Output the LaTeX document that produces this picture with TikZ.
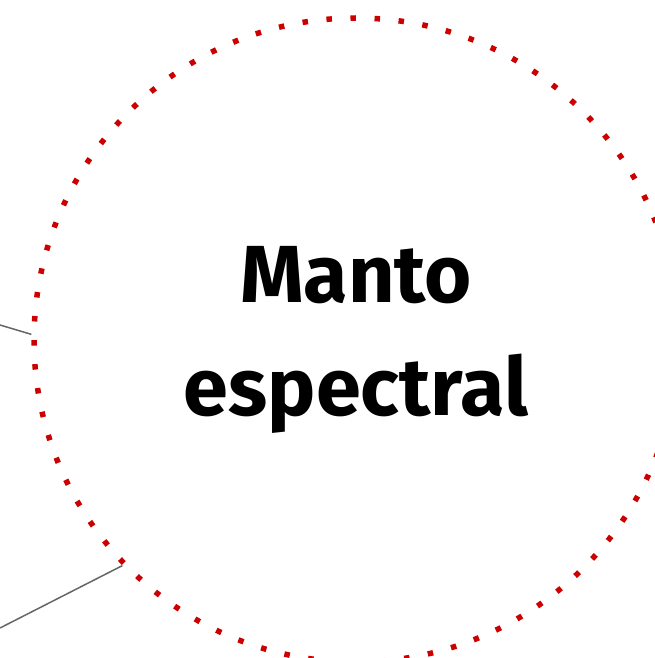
\documentclass[tikz,border=0pt]{standalone}
\usepackage{fontspec}
\setmainfont{Fira Sans}
\definecolor{mantored}{HTML}{CC0000}
\definecolor{linkgray}{HTML}{666666}
\tikzset{
	spectral/.style={circle, minimum size=644pt, inner sep=0pt, draw=mantored,
		line width=5.5pt, dash pattern=on 5.5pt off 18.59pt,
		align=center, font=\fontsize{81}{113}\selectfont\bfseries},
	link/.style={draw=linkgray, line width=1.5pt}
}
\begin{document}
\begin{tikzpicture}[x=1pt,y=-1pt]
	\useasboundingbox (0,0) rectangle (655,658);
	\node[spectral] (manto) at (356,340) {\raisebox{-4pt}{Manto}\\\raisebox{-4pt}{espectral}};
	\coordinate (linkA) at (0,325);
	\coordinate (linkB) at (0,628);
	\draw[link] (linkA) -- (manto.179);
	\draw[link] (linkB) -- (manto.224);
\end{tikzpicture}
\end{document}
